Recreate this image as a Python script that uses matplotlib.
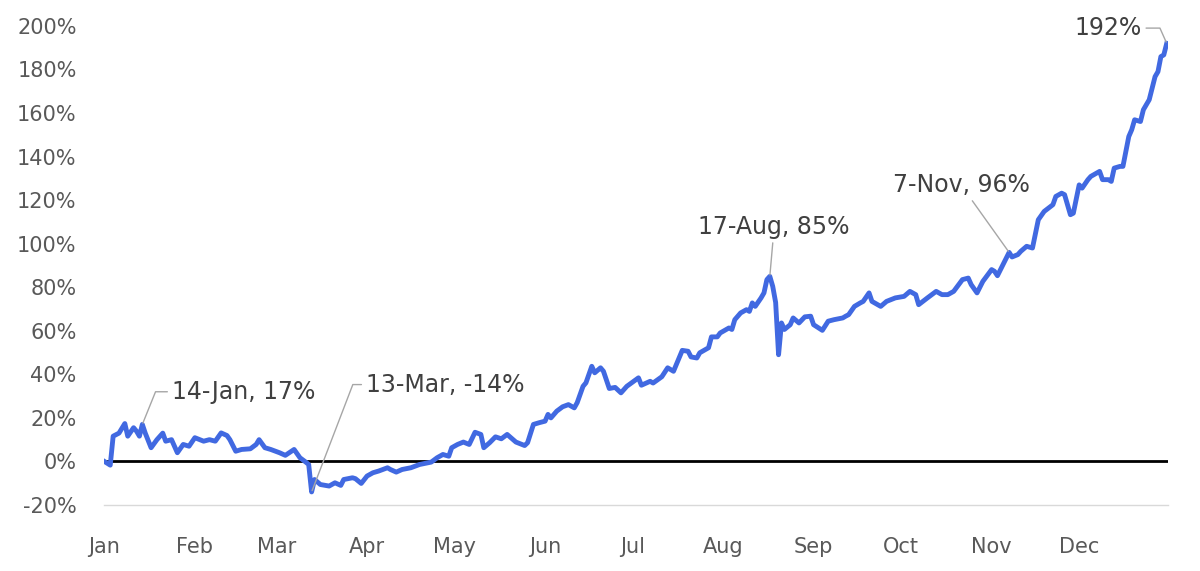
import pandas as pd
import matplotlib
matplotlib.use("Agg")
import matplotlib.pyplot as plt
import matplotlib.dates as mdates

# Cumulative return through the year (day offset from 1 Jan, % change)
days = [0, 2, 3, 5, 7, 8, 10, 11, 12, 13, 14, 16, 18, 20, 21, 23, 25, 27, 29, 31,
        34, 36, 38, 40, 42, 43, 45, 47, 50, 52, 53, 55, 57, 60, 62, 65, 67, 69, 70, 71,
        72, 74, 77, 79, 81, 82, 85, 86, 88, 90, 92, 94, 97, 98, 100, 102, 105, 108, 112, 114,
        116, 118, 119, 121, 123, 125, 127, 129, 130, 132, 134, 136, 138, 140, 141, 144, 145, 147, 149, 151,
        152, 153, 155, 157, 159, 161, 162, 164, 165, 167, 168, 170, 171, 173, 175, 177, 179, 183, 184, 187,
        188, 191, 193, 195, 198, 200, 201, 203, 204, 207, 208, 210, 211, 214, 215, 216, 218, 220, 221, 222,
        223, 225, 226, 227, 228, 229, 230, 231, 232, 233, 235, 236, 238, 240, 242, 243, 246, 248, 250, 253,
        254, 255, 257, 259, 260, 262, 263, 266, 268, 271, 274, 276, 278, 279, 282, 285, 287, 289, 291, 294,
        296, 297, 299, 301, 304, 305, 306, 309, 310, 311, 313, 314, 316, 318, 320, 322, 325, 326, 328, 329,
        331, 332, 334, 335, 337, 338, 341, 342, 344, 345, 346, 348, 349, 351, 352, 353, 355, 356, 357, 358,
        360, 361, 362, 363, 364]
returns = [0, -1.7, 11.6, 13, 17.4, 11.6, 15.5, 13.9, 11.6, 17, 13, 6.3, 10, 13, 9.3, 10, 4, 7.8, 7, 10.9,
           9.3, 10, 9.3, 13.1, 11.9, 10, 4.7, 5.5, 5.8, 7.8, 10, 6.3, 5.5, 4, 2.8, 5.5, 1.7, -0.3, -1.4, -14,
           -8.3, -10.6, -11.3, -9.8, -11, -8.3, -7.5, -7.9, -10.1, -6.7, -5.2, -4.4, -2.9, -3.7, -4.9, -3.7, -2.9, -1.4, -0.3, 1.7,
           3.2, 2.4, 6.3, 7.8, 8.9, 7.8, 13.4, 12.4, 6.3, 8.6, 11.3, 10.4, 12.4, 10.1, 8.9, 7.3, 8.6, 17, 17.8, 18.5,
           21.6, 20, 23.1, 25.1, 26.1, 24.6, 27, 34.5, 36.1, 43.7, 40.7, 43, 41.4, 33.5, 34, 31.5, 34.5, 38.4, 35, 36.8,
           36, 38.9, 43, 41.4, 51, 50.6, 48, 47.5, 49.9, 52.2, 57.2, 57.2, 59, 61.3, 60.6, 65.1, 68.2, 69.7, 68.9, 72.8,
           71.2, 75.1, 77.4, 83.5, 85, 80.4, 73, 49, 63.6, 60.6, 62.8, 65.9, 63.6, 66.4, 66.7, 62.8, 60.2, 64.4, 65.1, 65.9,
           66.7, 67.4, 71.2, 72.8, 73.5, 77.4, 73.5, 71.2, 73.5, 75.1, 75.8, 78.1, 76.6, 72, 75.1, 78.1, 76.6, 76.6, 78.1, 83.5,
           84.2, 81.2, 77.4, 82.7, 88.1, 87.3, 85.3, 93.4, 96, 93.9, 95, 96.5, 98.8, 98, 111, 114.8, 117.9, 121.7, 123.2, 122.5,
           113.3, 114, 127, 125.5, 129.4, 130.9, 133.2, 129.4, 129.4, 128.6, 134.7, 135.5, 135.5, 149.2, 152.3, 156.9, 156.1, 161.5, 163.8, 166.1,
           176.7, 179, 185.9, 186.7, 192]

# Labelled points: (day offset, value, label)
note_days = [13, 71, 228, 310, 364]
note_vals = [17, -14, 85, 96, 192]
note_labels = ["14-Jan, 17%", "13-Mar, -14%", "17-Aug, 85%", "7-Nov, 96%", "192%"]

base = pd.Timestamp("2021-01-01")
dates = base + pd.to_timedelta(days, unit="D")


def day_num(d):
    return mdates.date2num(base + pd.Timedelta(days=d))


fig = plt.figure(figsize=(12, 5.71), dpi=100)
ax = fig.add_axes([0.087, 0.1156, 0.886, 0.839])

ax.axhline(0, color="black", lw=2, zorder=2)
ax.plot(dates, returns, color="#4169E1", lw=3.5, solid_joinstyle="round", zorder=3)

ax.set_ylim(-20, 200)
ax.set_xlim(day_num(0), day_num(364.3))
ax.set_yticks(range(-20, 201, 20))
ax.yaxis.set_major_formatter(plt.FuncFormatter(lambda v, p: f"{v:.0f}%"))
ax.xaxis.set_major_locator(mdates.MonthLocator())
ax.xaxis.set_major_formatter(mdates.DateFormatter("%b"))
ax.tick_params(axis="y", length=0, pad=20, labelsize=15, labelcolor="#595959")
ax.tick_params(axis="x", length=0, pad=23, labelsize=15, labelcolor="#595959")

for s in ["top", "right", "left"]:
    ax.spines[s].set_visible(False)
ax.spines["bottom"].set_color("#d9d9d9")
ax.spines["bottom"].set_linewidth(1)

# annotations with gray leader lines
txt = dict(fontsize=17, color="#404040", va="center")
arrow = dict(arrowstyle="-", color="#a6a6a6", lw=1, shrinkA=1, shrinkB=1)

ax.annotate(note_labels[0], xy=(day_num(note_days[0]), note_vals[0]),
            xytext=(day_num(23), 32), ha="left",
            arrowprops=dict(arrow, connectionstyle="angle,angleA=0,angleB=68,rad=0"), **txt)
ax.annotate(note_labels[1], xy=(day_num(note_days[1]), note_vals[1]),
            xytext=(day_num(89.5), 35.3), ha="left",
            arrowprops=dict(arrow, connectionstyle="angle,angleA=0,angleB=69,rad=0"), **txt)
ax.annotate(note_labels[2], xy=(day_num(note_days[2]), note_vals[2]),
            xytext=(day_num(229.5), 107.8), ha="center",
            arrowprops=dict(arrow), **txt)
ax.annotate(note_labels[3], xy=(day_num(note_days[3]), note_vals[3]),
            xytext=(day_num(293.5), 127), ha="center",
            arrowprops=dict(arrow), **txt)
ax.annotate(note_labels[4], xy=(day_num(note_days[4]), note_vals[4]),
            xytext=(day_num(355.5), 199), ha="right",
            arrowprops=dict(arrow, connectionstyle="angle,angleA=0,angleB=114,rad=0"), **txt)

fig.savefig("out.png", dpi=100)
